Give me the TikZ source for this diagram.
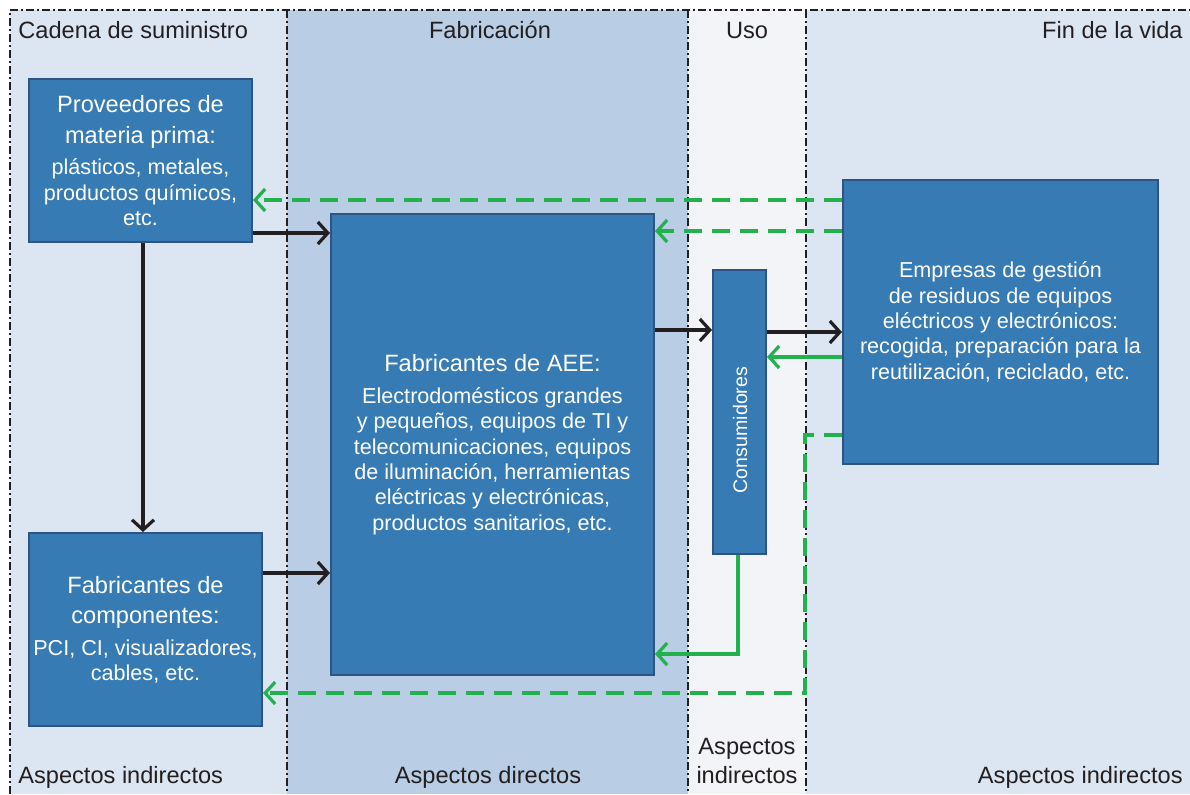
\documentclass[tikz,border=0pt]{standalone}
\usepackage{fontspec}
\setmainfont{Liberation Sans}
\usetikzlibrary{arrows.meta}

\definecolor{suppbg}{RGB}{220,230,242}
\definecolor{fabbg}{RGB}{185,205,228}
\definecolor{usebg}{RGB}{242,244,247}
\definecolor{boxfill}{RGB}{55,123,180}
\definecolor{boxline}{RGB}{46,84,134}
\definecolor{backgrn}{RGB}{34,177,76}
\definecolor{arrowblk}{RGB}{35,31,32}
\definecolor{hdtext}{RGB}{35,31,32}

\newcommand{\hdfont}{\fontsize{11.8}{14.5}\selectfont}
\newcommand{\smfont}{\fontsize{10.8}{12.65}\selectfont}

\begin{document}
\begin{tikzpicture}[x=0.5pt,y=-0.5pt,
    box/.style={draw=boxline,line width=1pt,fill=boxfill,text=white,font=\smfont,align=center,inner sep=0pt},
    sep/.style={draw=arrowblk,line width=0.75pt,dash pattern=on 4pt off 1.5pt on 1pt off 1.5pt},
    flow/.style={draw=arrowblk,line width=1.6pt,-{Straight Barb[length=5pt,width=11pt]}},
    back/.style={draw=backgrn,line width=1.6pt,-{Straight Barb[length=5pt,width=11pt]}},
    backdash/.style={back,dash pattern=on 9pt off 5pt},
    hd/.style={font=\hdfont,text=hdtext,inner sep=0pt}]

    \useasboundingbox (0,0) rectangle (1190,794);

    % Column backgrounds
    \fill[suppbg] (10,10) rectangle (287,794);
    \fill[fabbg] (287,10) rectangle (688,794);
    \fill[usebg] (688,10) rectangle (806,794);
    \fill[suppbg] (806,10) rectangle (1190,794);

    % Frame and column separators
    \draw[sep] (10,794) -- (10,10) -- (1190,10);
    \foreach \x in {287,688,806} {
        \draw[sep] (\x,10) -- (\x,794);
    }

    % Column headings
    \node[hd,anchor=base west] (hsupp) at (18,38) {Cadena de suministro};
    \node[hd,anchor=base] (hfab) at (490,38) {Fabricación};
    \node[hd,anchor=base] (huse) at (747,38) {Uso};
    \node[hd,anchor=base east] (heol) at (1183,38) {Fin de la vida};

    % Bottom labels
    \node[hd,anchor=base west] (asupp) at (18,783) {Aspectos indirectos};
    \node[hd,anchor=base] (afab) at (488,783) {Aspectos directos};
    \node[hd,anchor=base,align=center] (ause) at (747,783) {Aspectos\\[-0.3pt] indirectos};
    \node[hd,anchor=base east] (aeol) at (1183,783) {Aspectos indirectos};

    % Boxes
    \node[box,minimum width=111.5pt,minimum height=81.5pt] (prov) at (140.5,160.5)
        {\hdfont Proveedores de\\[2.9pt] \hdfont materia prima:\\[2.9pt] \smfont plásticos, metales,\\ \smfont productos químicos,\\ \smfont etc.};
    \node[box,minimum width=116.5pt,minimum height=96.5pt] (comp) at (145.5,629.5)
        {\hdfont Fabricantes de\\[2.4pt] \hdfont componentes:\\[3.3pt] \smfont PCI, CI, visualizadores,\\ \smfont cables, etc.};
    \node[box,minimum width=161.5pt,minimum height=230.5pt] (aee) at (492.5,444.5)
        {\hdfont Fabricantes de AEE:\\[3.3pt] \smfont Electrodomésticos grandes\\ \smfont y pequeños, equipos de TI y\\
         \smfont telecomunicaciones, equipos\\ \smfont de iluminación, herramientas\\
         \smfont eléctricas y electrónicas,\\ \smfont productos sanitarios, etc.};
    \node[box,minimum width=26.5pt,minimum height=142pt] (cons) at (739.5,412) {};
    \node[text=white,rotate=90,font=\fontsize{9.8}{11}\selectfont,inner sep=0pt] (constxt) at (740,430) {Consumidores};
    \node[box,minimum width=157.5pt,minimum height=142pt] (emp) at (1000.5,322)
        {\smfont Empresas de gestión\\ \smfont de residuos de equipos\\ \smfont eléctricos y electrónicos:\\
         \smfont recogida, preparación para la\\ \smfont reutilización, reciclado, etc.};

    % Material flow
    \draw[flow] (prov.east |- 0,233) -- (aee.west |- 0,233);
    \draw[flow] (prov.south -| 143,0) -- (comp.north -| 143,0);
    \draw[flow] (comp.east |- 0,573) -- (aee.west |- 0,573);
    \draw[flow] (aee.east |- 0,330) -- (cons.west |- 0,330);
    \draw[flow] (cons.east |- 0,332) -- (emp.west |- 0,332);

    % Return flows
    \draw[back] (emp.west |- 0,357) -- (cons.east |- 0,357);
    \draw[back] (cons.south -| 738,0) |- (aee.east |- 0,654);
    \draw[backdash] (emp.west |- 0,200) -- (prov.east |- 0,200);
    \draw[backdash] (emp.west |- 0,231) -- (aee.east |- 0,231);
    \coordinate (bend) at (805,693);
    \draw[backdash] (emp.west |- 0,435) -| (bend) -- (comp.east |- bend);

\end{tikzpicture}
\end{document}
